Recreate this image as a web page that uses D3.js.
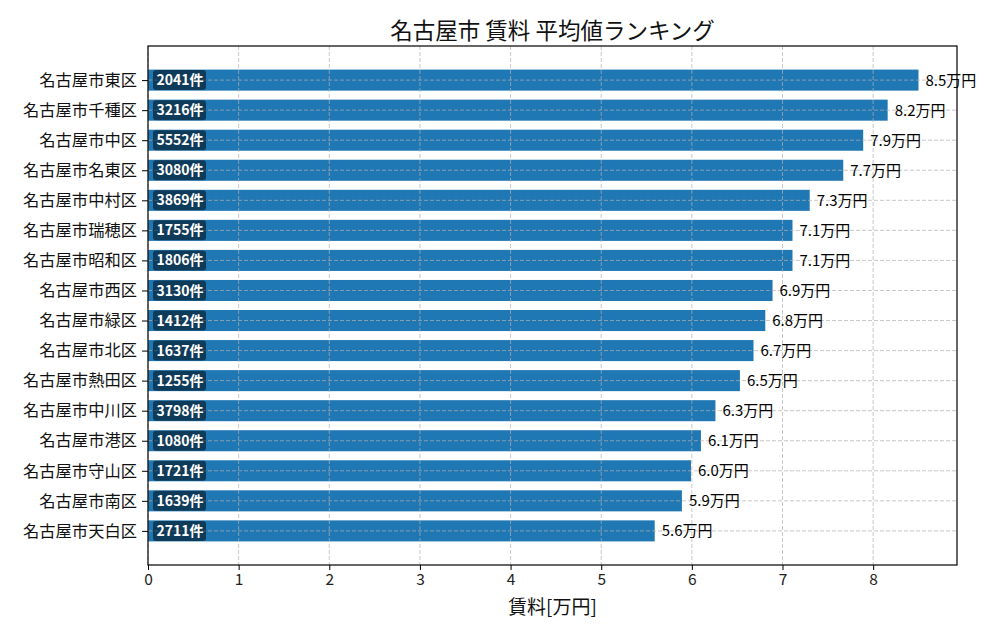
<!DOCTYPE html>
<html>
<head>
<meta charset="utf-8">
<script src="https://cdn.jsdelivr.net/npm/d3@7"></script>
<style>
  body { margin: 0; background: #fff; }
  svg text { font-family: "Noto Sans CJK JP", "Noto Sans", sans-serif; }
</style>
</head>
<body>
<div id="chart"></div>
<script>
var wards = ["名古屋市東区", "名古屋市千種区", "名古屋市中区", "名古屋市名東区", "名古屋市中村区",
  "名古屋市瑞穂区", "名古屋市昭和区", "名古屋市西区", "名古屋市緑区", "名古屋市北区",
  "名古屋市熱田区", "名古屋市中川区", "名古屋市港区", "名古屋市守山区", "名古屋市南区", "名古屋市天白区"];
var rents = [8.50, 8.16, 7.89, 7.67, 7.30, 7.11, 7.11, 6.89, 6.81, 6.68, 6.53, 6.26, 6.10, 5.99, 5.89, 5.59];
var counts = [2041, 3216, 5552, 3080, 3869, 1755, 1806, 3130, 1412, 1637, 1255, 3798, 1080, 1721, 1639, 2711];
var xTicks = [0, 1, 2, 3, 4, 5, 6, 7, 8];

var width = 1000, height = 640;
var margin = {top: 46, right: 43, bottom: 75, left: 148};
var innerW = width - margin.left - margin.right;
var innerH = height - margin.top - margin.bottom;

var svg = d3.select("#chart").append("svg")
  .attr("width", width)
  .attr("height", height);

var g = svg.append("g")
  .attr("transform", "translate(" + margin.left + "," + margin.top + ")");

// x scale, a bit of room past the longest bar
var x = d3.scaleLinear()
  .domain([0, 8.925])
  .range([0, innerW]);

// bars as index positions, with matplotlib-like margins
var n = wards.length;
var y = d3.scaleLinear()
  .domain([-1.135, n - 1 + 1.135])
  .range([0, innerH]);
var barH = (y(1) - y(0)) * 0.7;

// bars
g.selectAll("rect.bar")
  .data(rents)
  .enter()
  .append("rect")
  .attr("class", "bar")
  .attr("x", x(0))
  .attr("y", function(d, i) { return y(i) - barH / 2; })
  .attr("width", function(d) { return x(d) - x(0); })
  .attr("height", barH)
  .attr("fill", "#1f77b4");

// grid over the bars
g.selectAll("line.vgrid")
  .data(xTicks)
  .enter()
  .append("line")
  .attr("class", "vgrid")
  .attr("x1", function(d) { return x(d); })
  .attr("x2", function(d) { return x(d); })
  .attr("y1", 0)
  .attr("y2", innerH)
  .attr("stroke", "#b0b0b0")
  .attr("stroke-opacity", 0.7)
  .attr("stroke-dasharray", "4,2")
  .attr("stroke-width", 1);

g.selectAll("line.hgrid")
  .data(wards)
  .enter()
  .append("line")
  .attr("class", "hgrid")
  .attr("x1", 0)
  .attr("x2", innerW)
  .attr("y1", function(d, i) { return y(i); })
  .attr("y2", function(d, i) { return y(i); })
  .attr("stroke", "#b0b0b0")
  .attr("stroke-opacity", 0.7)
  .attr("stroke-dasharray", "4,2")
  .attr("stroke-width", 1);

// count badges
var badges = g.selectAll("g.badge")
  .data(counts)
  .enter()
  .append("g")
  .attr("class", "badge")
  .attr("transform", function(d, i) { return "translate(" + (x(0) + 5) + "," + y(i) + ")"; });

badges.append("rect")
  .attr("x", 0)
  .attr("y", -10)
  .attr("width", 53)
  .attr("height", 20)
  .attr("rx", 3)
  .attr("fill", "#000")
  .attr("fill-opacity", 0.5);

badges.append("text")
  .attr("x", 3.5)
  .attr("y", 0)
  .attr("dy", "0.36em")
  .attr("fill", "#fff")
  .style("font-size", "14px")
  .style("font-weight", "bold")
  .text(function(d) { return d + "件"; });

// value labels
g.selectAll("text.val")
  .data(rents)
  .enter()
  .append("text")
  .attr("class", "val")
  .attr("x", function(d) { return x(d) + 7; })
  .attr("y", function(d, i) { return y(i); })
  .attr("dy", "0.36em")
  .style("font-size", "15px")
  .attr("fill", "#000")
  .text(function(d) { return d.toFixed(1) + "万円"; });

// axes
var xAxis = g.append("g")
  .attr("transform", "translate(0," + innerH + ")")
  .call(d3.axisBottom(x).tickValues(xTicks).tickSize(5).tickPadding(4).tickFormat(d3.format("d")));
xAxis.select(".domain").remove();
xAxis.selectAll("text").style("font-size", "15.5px").attr("fill", "#222");
xAxis.selectAll("line").attr("stroke", "#000");

var yAxis = g.append("g")
  .call(d3.axisLeft(y).tickValues(d3.range(n)).tickSize(6).tickPadding(5)
    .tickFormat(function(i) { return wards[i]; }));
yAxis.select(".domain").remove();
yAxis.selectAll("text").style("font-size", "16.3px").attr("fill", "#111");
yAxis.selectAll("line").attr("stroke", "#000");

// frame
g.append("rect")
  .attr("x", 0)
  .attr("y", 0)
  .attr("width", innerW)
  .attr("height", innerH)
  .attr("fill", "none")
  .attr("stroke", "#000")
  .attr("stroke-width", 1.2);

// title and x label
svg.append("text")
  .attr("x", margin.left + innerW / 2)
  .attr("y", 39)
  .attr("text-anchor", "middle")
  .style("font-size", "22.5px")
  .attr("fill", "#111")
  .text("名古屋市 賃料 平均値ランキング");

svg.append("text")
  .attr("x", margin.left + innerW / 2)
  .attr("y", 614)
  .attr("text-anchor", "middle")
  .style("font-size", "19px")
  .attr("fill", "#111")
  .text("賃料[万円]");
</script>
</body>
</html>
